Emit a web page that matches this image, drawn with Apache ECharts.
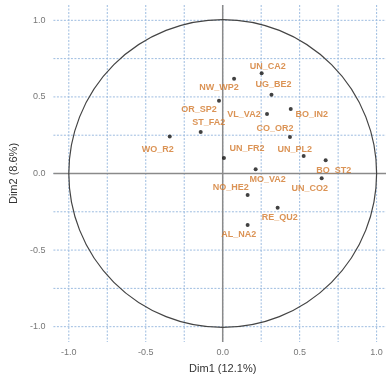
<!DOCTYPE html>
<html><head><meta charset="utf-8">
<script src="https://cdn.jsdelivr.net/npm/echarts@6/dist/echarts.min.js"></script>
<style>html,body{margin:0;padding:0;background:#fff;overflow:hidden;width:386px;height:379px}#c{width:392px;height:379px}</style>
</head><body><div id="c"></div>
<script>
const names = ['UN_CA2','NW_WP2','UG_BE2','OR_SP2','BO_IN2','VL_VA2','ST_FA2','WO_R2','CO_OR2','UN_FR2','UN_PL2','BO_ST2','MO_VA2','UN_CO2','NO_HE2','RE_QU2','AL_NA2'];
const dim1 = [0.253,0.074,0.317,-0.024,0.442,0.288,-0.143,-0.344,0.437,0.008,0.526,0.669,0.214,0.643,0.162,0.357,0.162];
const dim2 = [0.654,0.618,0.514,0.475,0.421,0.388,0.271,0.241,0.239,0.102,0.115,0.086,0.028,-0.031,-0.140,-0.224,-0.337];
const tickLabels = [-1.0,-0.5,0.0,0.5,1.0];
const gridTicks = [-1,-0.75,-0.5,-0.25,0,0.25,0.5,0.75,1];
// label placement (pixel offsets from each point, ggrepel-like)
const labelOffsets = [[6,-7],[-15,9],[2,-10],[-20,9],[21,6],[-23,0],[8,-9],[-12,13],[-15,-8],[23,-9],[-9,-6],[8,10],[12,10],[-12,10],[-17,-7],[2,10],[-9,9]];

const chart = echarts.init(document.getElementById('c'), null, {renderer:'canvas'});
const FONT = 'Liberation Sans, Arial, sans-serif';

const pts = names.map((n,i)=>({
  name:n, value:[dim1[i], dim2[i]],
  label:{offset:labelOffsets[i]}
}));

chart.setOption({
  animation:false,
  backgroundColor:'#fff',
  grid:{left:53, right:0, top:5, bottom:35.2, containLabel:false},
  xAxis:{type:'value', min:-1.1, max:1.1,
    axisLine:{show:false}, axisTick:{show:false}, splitLine:{show:false},
    axisLabel:{customValues:tickLabels, formatter:v=>v.toFixed(1), color:'#777', fontSize:9, fontFamily:FONT, margin:6},
    name:'Dim1 (12.1%)', nameLocation:'middle', nameGap:21,
    nameTextStyle:{color:'#333', fontSize:11, fontFamily:FONT}},
  yAxis:{type:'value', min:-1.1, max:1.1,
    axisLine:{show:false}, axisTick:{show:false}, splitLine:{show:false},
    axisLabel:{customValues:tickLabels, formatter:v=>v.toFixed(1), color:'#777', fontSize:9, fontFamily:FONT, margin:8},
    name:'Dim2 (8.6%)', nameLocation:'middle', nameGap:32,
    nameTextStyle:{color:'#333', fontSize:11, fontFamily:FONT}},
  series:[
    {type:'custom', silent:true, z:1, data:[[0,0]],
     renderItem:function(params, api){
       const cs = params.coordSys;
       const ch = [];
       gridTicks.forEach(v=>{
         const px = api.coord([v,0])[0];
         ch.push({type:'line', shape:{x1:px,y1:cs.y,x2:px,y2:cs.y+cs.height},
           style:{stroke:'#9dbce0', lineWidth:1, lineDash:[2,1.5]}});
         const py = api.coord([0,v])[1];
         ch.push({type:'line', shape:{x1:cs.x,y1:py,x2:cs.x+cs.width,y2:py},
           style:{stroke:'#9dbce0', lineWidth:1, lineDash:[2,1.5]}});
       });
       const o = api.coord([0,0]);
       ch.push({type:'line', shape:{x1:o[0],y1:cs.y,x2:o[0],y2:cs.y+cs.height}, style:{stroke:'#8a8a8a', lineWidth:1.5}});
       ch.push({type:'line', shape:{x1:cs.x,y1:o[1],x2:cs.x+cs.width,y2:o[1]}, style:{stroke:'#8a8a8a', lineWidth:1.5}});
       const r = api.size([1,1])[0];
       ch.push({type:'circle', shape:{cx:o[0], cy:o[1], r:r}, style:{fill:'none', stroke:'#444', lineWidth:1.2}});
       return {type:'group', children:ch};
     }},
    {type:'scatter', z:3, symbolSize:4, itemStyle:{color:'#111'}, data:pts,
     label:{show:true, position:'inside', formatter:p=>p.name, color:'#d2782a', fontSize:9, fontWeight:'bold', fontFamily:FONT, align:'center', verticalAlign:'middle'}}
  ]
});
</script></body></html>
